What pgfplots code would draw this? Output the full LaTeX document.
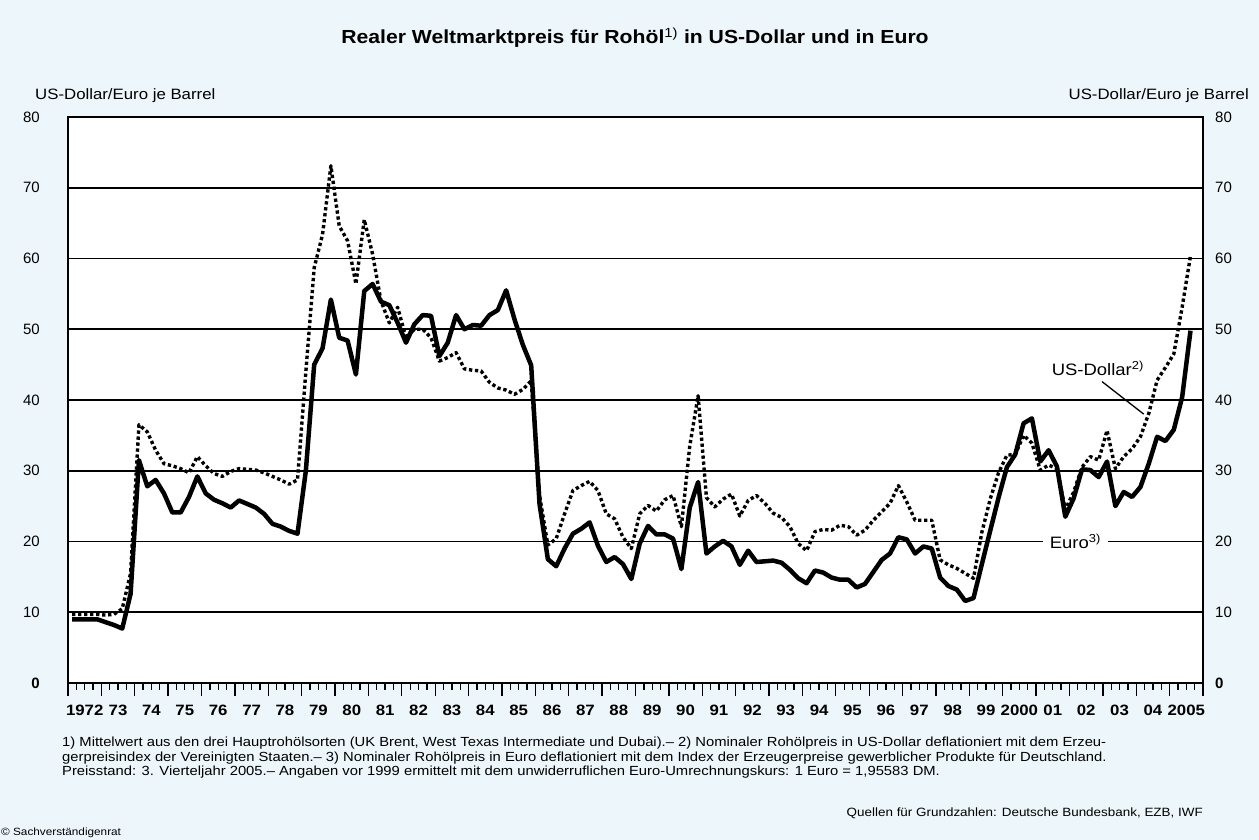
\documentclass[border=0pt]{standalone}
\usepackage{fontspec}
\setmainfont{Liberation Sans}
\usepackage{graphicx}
\usepackage{pgfplots}
\usepackage{pgfplotstable}
\pgfplotsset{compat=1.18}
\definecolor{bgc}{RGB}{237,246,250}
\newcommand{\sx}[1]{\scalebox{1.12}[1]{#1}}

\pgfplotstableread{
q eur usd
0 9.0 9.7
1 9.0 9.7
2 9.0 9.7
3 9.0 9.7
4 8.6 9.6
5 8.2 9.7
6 7.7 10.5
7 12.6 15.5
8 31.5 36.5
9 27.8 35.5
10 28.7 32.9
11 26.8 31.0
12 24.1 30.7
13 24.1 30.3
14 26.3 29.7
15 29.2 32.0
16 26.8 30.7
17 25.9 29.6
18 25.4 29.2
19 24.8 29.9
20 25.8 30.3
21 25.3 30.2
22 24.8 30.1
23 23.9 29.7
24 22.5 29.2
25 22.1 28.7
26 21.5 28.1
27 21.1 28.7
28 30.0 44.0
29 45.0 58.7
30 47.3 63.4
31 54.2 73.1
32 48.8 64.6
33 48.4 62.5
34 43.6 56.4
35 55.4 65.5
36 56.4 60.6
37 53.9 54.0
38 53.4 50.9
39 50.9 53.1
40 48.1 48.8
41 50.7 50.0
42 52.0 50.0
43 51.9 48.8
44 46.2 45.5
45 48.1 46.0
46 52.0 46.7
47 50.0 44.4
48 50.6 44.2
49 50.5 44.1
50 52.0 42.5
51 52.7 41.7
52 55.5 41.4
53 51.4 40.8
54 47.8 41.5
55 44.9 42.7
56 25.3 26.5
57 17.5 19.5
58 16.5 20.4
59 19.0 23.9
60 21.1 27.2
61 21.8 27.9
62 22.7 28.5
63 19.4 27.2
64 17.1 23.9
65 17.8 23.2
66 16.8 20.6
67 14.7 19.0
68 19.7 23.9
69 22.2 25.1
70 21.0 24.3
71 21.0 25.9
72 20.4 26.5
73 16.1 22.1
74 24.8 33.5
75 28.4 40.6
76 18.3 26.2
77 19.3 24.9
78 20.1 26.0
79 19.3 26.7
80 16.7 23.6
81 18.7 25.8
82 17.1 26.5
83 17.2 25.4
84 17.3 24.0
85 17.0 23.4
86 16.0 22.1
87 14.8 19.7
88 14.1 18.7
89 15.9 21.4
90 15.6 21.7
91 14.9 21.6
92 14.6 22.3
93 14.6 22.1
94 13.5 20.9
95 14.0 21.6
96 15.7 23.0
97 17.4 24.2
98 18.3 25.4
99 20.6 27.9
100 20.3 25.6
101 18.3 23.0
102 19.3 23.0
103 19.0 23.0
104 14.9 17.4
105 13.7 16.7
106 13.2 16.2
107 11.6 15.5
108 12.0 14.8
109 16.8 21.3
110 21.5 26.0
111 26.2 29.7
112 30.5 32.2
113 32.3 32.3
114 36.7 35.0
115 37.4 33.9
116 31.3 30.1
117 32.9 30.8
118 30.6 30.3
119 23.5 24.5
120 26.1 27.0
121 30.2 30.5
122 30.1 32.0
123 29.1 31.5
124 31.3 35.7
125 25.0 30.3
126 27.0 32.0
127 26.3 33.1
128 27.7 34.8
129 31.0 38.1
130 34.8 42.8
131 34.2 44.6
132 35.8 46.5
133 40.4 53.1
134 49.8 60.4
}\oil

\begin{document}
\begin{tikzpicture}
\fill[bgc] (-68pt,-157pt) rectangle (1191pt,683pt);
\begin{axis}[
  at={(0pt,0pt)}, anchor=south west,
  scale only axis, width=1135pt, height=566pt,
  xmin=-0.5, xmax=135.5, ymin=0, ymax=80,
  axis background/.style={fill=white},
  axis line style={line width=2.8pt},
  xtick={-0.5,3.5,...,135.5}, xticklabels={},
  minor x tick num=3,
  xtick pos=bottom, tick align=outside,
  x tick style={line width=1.3pt, black},
  major tick length=13pt, minor tick length=7pt,
  ytick={0,10,...,80},
  yticklabels={\textbf{0},10,20,30,40,50,60,70,80},
  ytick pos=left,
  y tick style={draw=none},
  ymajorgrids, grid style={line width=1.8pt, black},
  tick label style={font=\fontsize{15}{18}\selectfont},
  yticklabel style={inner sep=0pt, xshift=-15pt},
  xticklabel style={font=\bfseries\fontsize{15}{18}\selectfont, inner sep=0pt},
  extra x ticks={1.5,5.5,...,133.5},
  extra x tick labels={\sx{1972},\sx{73},\sx{74},\sx{75},\sx{76},\sx{77},\sx{78},\sx{79},\sx{80},\sx{81},\sx{82},\sx{83},\sx{84},\sx{85},\sx{86},\sx{87},\sx{88},\sx{89},\sx{90},\sx{91},\sx{92},\sx{93},\sx{94},\sx{95},\sx{96},\sx{97},\sx{98},\sx{99},\sx{2000},\sx{01},\sx{02},\sx{03},\sx{04},\sx{2005}},
  extra x tick style={major tick length=0pt, grid=none, xticklabel style={yshift=-22pt}},
  /pgf/number format/assume math mode=true,
]
\addplot[line width=3.4pt, dash pattern=on 3.3pt off 2.7pt, line join=round, black] table[x=q,y=usd]{\oil};
\addplot[line width=4.5pt, line join=round, black] table[x=q,y=eur]{\oil};
\node[fill=white, inner xsep=7pt, inner ysep=1pt, font=\fontsize{16.5}{18}\selectfont] at (axis cs:120.2,20) {\sx{Euro\textsuperscript{3)}}};
\node[font=\fontsize{16.5}{18}\selectfont] at (axis cs:122.9,44.5) {\sx{US-Dollar\textsuperscript{2)}}};
\draw[line width=1.3pt] (axis cs:123.4,42.6) -- (axis cs:128.4,38.0);
\end{axis}
\begin{axis}[
  at={(0pt,0pt)}, anchor=south west,
  scale only axis, width=1135pt, height=566pt,
  xmin=-0.5, xmax=135.5, ymin=0, ymax=80,
  axis x line=none, axis y line*=right,
  axis line style={line width=2.8pt},
  ytick={0,10,...,80},
  yticklabels={\textbf{0},10,20,30,40,50,60,70,80},
  y tick style={draw=none},
  tick label style={font=\fontsize{15}{18}\selectfont},
  yticklabel style={inner sep=0pt, xshift=12pt},
]
\addplot[draw=none] coordinates {(0,0)};
\end{axis}
\node[anchor=base, inner sep=0pt, font=\bfseries\fontsize{18.9}{21}\selectfont] at (567pt,639pt) {\sx{Realer Weltmarktpreis für Rohöl\textsuperscript{\mdseries 1)} in US-Dollar und in Euro}};
\node[anchor=base west, inner sep=0pt, font=\fontsize{15}{18}\selectfont] at (-33pt,583pt) {\sx{US-Dollar/Euro je Barrel}};
\node[anchor=base east, inner sep=0pt, font=\fontsize{15}{18}\selectfont] at (1181pt,583pt) {\sx{US-Dollar/Euro je Barrel}};
\node[anchor=base west, inner sep=0pt, font=\fontsize{13.2}{14}\selectfont] at (-6pt,-64pt) {\sx{1) Mittelwert aus den drei Hauptrohölsorten (UK Brent, West Texas Intermediate und Dubai).– 2) Nominaler Rohölpreis in US-Dollar deflationiert mit dem Erzeu-}};
\node[anchor=base west, inner sep=0pt, font=\fontsize{13.2}{14}\selectfont] at (-6pt,-78.3pt) {\sx{gerpreisindex der Vereinigten Staaten.– 3) Nominaler Rohölpreis in Euro deflationiert mit dem Index der Erzeugerpreise gewerblicher Produkte für Deutschland.}};
\node[anchor=base west, inner sep=0pt, font=\fontsize{13.2}{14}\selectfont] at (-6pt,-92.6pt) {\sx{Preisstand: 3. Vierteljahr 2005.– Angaben vor 1999 ermittelt mit dem unwiderruflichen Euro-Umrechnungskurs: 1 Euro = 1,95583 DM.}};
\node[anchor=base east, inner sep=0pt, font=\fontsize{12}{14}\selectfont] at (1135pt,-134pt) {\sx{Quellen für Grundzahlen: Deutsche Bundesbank, EZB, IWF}};
\node[anchor=base west, inner sep=0pt, font=\fontsize{10.5}{12}\selectfont] at (-67pt,-153pt) {\sx{© Sachverständigenrat}};
\end{tikzpicture}
\end{document}
